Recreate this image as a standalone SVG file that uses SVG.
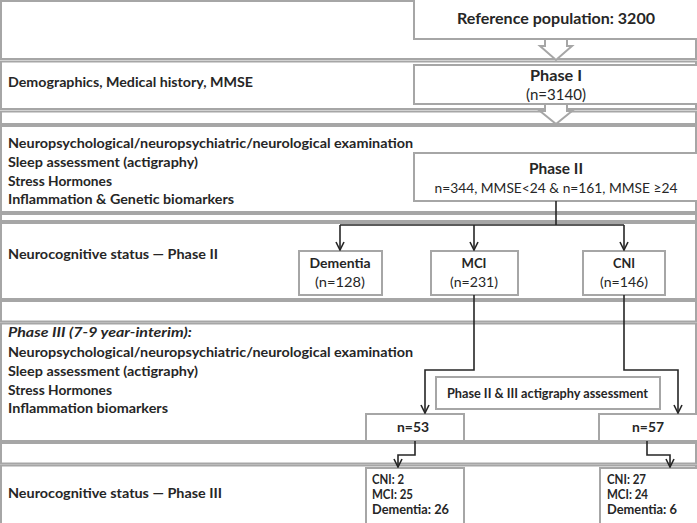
<svg xmlns="http://www.w3.org/2000/svg" width="697" height="523" viewBox="0 0 697 523">
<style>
.band{fill:#ffffff;stroke:#a6a6a6;stroke-width:2}
.box{fill:#ffffff;stroke:#a6a6a6;stroke-width:2}
.barrow{fill:#ffffff;stroke:#a6a6a6;stroke-width:2;stroke-linejoin:miter}
.con{fill:none;stroke:#262626;stroke-width:1.6}
.t{font-family:Lato,"Liberation Sans",Arial,sans-serif;font-weight:bold;font-size:14px;fill:#262626}
.r{font-weight:normal}
.i{font-style:italic}
.m{text-anchor:middle}
.s{font-size:13px}
.big{font-size:16px}
</style>
<defs>
<marker id="ah" viewBox="0 0 10 10" refX="9" refY="5" markerWidth="10" markerHeight="10" markerUnits="userSpaceOnUse" orient="auto">
<path d="M1,1 L9,5 L1,9" fill="none" stroke="#262626" stroke-width="1.6"/>
</marker>
</defs>
<rect width="697" height="523" fill="#ffffff"/>
<g id="bands">
<rect class="band" x="1" y="1" width="695" height="58"/>
<rect class="band" x="1" y="61.5" width="695" height="47.5"/>
<rect class="band" x="1" y="111.5" width="695" height="12.5"/>
<rect class="band" x="1" y="126" width="695" height="86"/>
<rect class="band" x="1" y="214" width="695" height="7"/>
<rect class="band" x="1" y="223" width="695" height="76"/>
<rect class="band" x="1" y="301" width="695" height="20.5"/>
<rect class="band" x="1" y="323.5" width="695" height="117.5"/>
<rect class="band" x="1" y="443" width="695" height="20.5"/>
<rect class="band" x="1" y="465.5" width="695" height="60"/>
</g>
<g id="band-labels">
<text class="t" x="8" y="87" textLength="245" lengthAdjust="spacingAndGlyphs">Demographics, Medical history, MMSE</text>
<text class="t" x="8" y="148" textLength="405" lengthAdjust="spacingAndGlyphs">Neuropsychological/neuropsychiatric/neurological examination</text>
<text class="t" x="8" y="167" textLength="190" lengthAdjust="spacingAndGlyphs">Sleep assessment (actigraphy)</text>
<text class="t" x="8" y="186" textLength="104" lengthAdjust="spacingAndGlyphs">Stress Hormones</text>
<text class="t" x="8" y="204" textLength="226" lengthAdjust="spacingAndGlyphs">Inflammation &amp; Genetic biomarkers</text>
<text class="t" x="8" y="259" textLength="210" lengthAdjust="spacingAndGlyphs">Neurocognitive status — Phase II</text>
<text class="t i" x="8" y="337" textLength="184" lengthAdjust="spacingAndGlyphs">Phase III (7-9 year-interim):</text>
<text class="t" x="8" y="357" textLength="405" lengthAdjust="spacingAndGlyphs">Neuropsychological/neuropsychiatric/neurological examination</text>
<text class="t" x="8" y="376" textLength="190" lengthAdjust="spacingAndGlyphs">Sleep assessment (actigraphy)</text>
<text class="t" x="8" y="395" textLength="104" lengthAdjust="spacingAndGlyphs">Stress Hormones</text>
<text class="t" x="8" y="413" textLength="160" lengthAdjust="spacingAndGlyphs">Inflammation biomarkers</text>
<text class="t" x="8" y="498" textLength="214" lengthAdjust="spacingAndGlyphs">Neurocognitive status — Phase III</text>
</g>
<g id="node-reference">
<rect class="box" x="414" y="-3" width="290" height="42"/>
<text class="t m big" x="556" y="24" textLength="198" lengthAdjust="spacingAndGlyphs">Reference population: 3200</text>
</g>
<g id="node-phase1">
<rect class="box" x="414" y="65" width="290" height="39"/>
<text class="t m big" x="556" y="81" textLength="52" lengthAdjust="spacingAndGlyphs">Phase I</text>
<text class="t m r big" x="556" y="100" textLength="60" lengthAdjust="spacingAndGlyphs">(n=3140)</text>
</g>
<g id="node-phase2">
<rect class="box" x="414" y="153" width="290" height="48"/>
<text class="t m big" x="556" y="174" textLength="54" lengthAdjust="spacingAndGlyphs">Phase II</text>
<text class="t m r" x="556" y="193" textLength="243" lengthAdjust="spacingAndGlyphs">n=344, MMSE&lt;24 &amp; n=161, MMSE ≥24</text>
</g>
<g id="node-dementia">
<rect class="box" x="299" y="251" width="83" height="44"/>
<text class="t m" x="340" y="268" textLength="61" lengthAdjust="spacingAndGlyphs">Dementia</text>
<text class="t m r" x="340" y="287" textLength="50" lengthAdjust="spacingAndGlyphs">(n=128)</text>
</g>
<g id="node-mci">
<rect class="box" x="431" y="251" width="87" height="44"/>
<text class="t m" x="474" y="268" textLength="25" lengthAdjust="spacingAndGlyphs">MCI</text>
<text class="t m r" x="474" y="287" textLength="48" lengthAdjust="spacingAndGlyphs">(n=231)</text>
</g>
<g id="node-cni">
<rect class="box" x="583" y="251" width="82" height="44"/>
<text class="t m" x="624" y="268" textLength="22" lengthAdjust="spacingAndGlyphs">CNI</text>
<text class="t m r" x="624" y="287" textLength="48" lengthAdjust="spacingAndGlyphs">(n=146)</text>
</g>
<g id="node-actigraphy">
<rect class="box" x="436" y="377" width="224" height="32"/>
<text class="t m s" x="547.5" y="398" textLength="201" lengthAdjust="spacingAndGlyphs">Phase II &amp; III actigraphy assessment</text>
</g>
<g id="node-n53">
<rect class="box" x="366" y="414" width="98" height="27"/>
<text class="t m" x="413" y="432" textLength="32" lengthAdjust="spacingAndGlyphs">n=53</text>
</g>
<g id="node-n57">
<rect class="box" x="599" y="414" width="105" height="27"/>
<text class="t m" x="648" y="432" textLength="32" lengthAdjust="spacingAndGlyphs">n=57</text>
</g>
<g id="node-outcome53">
<rect class="box" x="366" y="468" width="98" height="60"/>
<text class="t s" x="372" y="484" textLength="32" lengthAdjust="spacingAndGlyphs">CNI: 2</text>
<text class="t s" x="372" y="499" textLength="41" lengthAdjust="spacingAndGlyphs">MCI: 25</text>
<text class="t s" x="372" y="514" textLength="77" lengthAdjust="spacingAndGlyphs">Dementia: 26</text>
</g>
<g id="node-outcome57">
<rect class="box" x="600" y="468" width="104" height="60"/>
<text class="t s" x="607" y="484" textLength="39" lengthAdjust="spacingAndGlyphs">CNI: 27</text>
<text class="t s" x="607" y="499" textLength="41" lengthAdjust="spacingAndGlyphs">MCI: 24</text>
<text class="t s" x="607" y="514" textLength="70" lengthAdjust="spacingAndGlyphs">Dementia: 6</text>
</g>
<g id="connectors">
<polygon class="barrow" points="545,39 545,46 540,46 556,60 572,46 567,46 567,39"/>
<polygon class="barrow" points="545,104 545,111 540,111 556,124 572,111 567,111 567,104"/>
<path class="con" d="M556,201 V225 M340,225 H624"/>
<path class="con" d="M340,225 V250" marker-end="url(#ah)"/>
<path class="con" d="M474,225 V250" marker-end="url(#ah)"/>
<path class="con" d="M624,225 V250" marker-end="url(#ah)"/>
<path class="con" d="M474,295 V370 H425 V413" marker-end="url(#ah)"/>
<path class="con" d="M624,295 V370 H678 V413" marker-end="url(#ah)"/>
<path class="con" d="M415,441 V455 H398 V467" marker-end="url(#ah)"/>
<path class="con" d="M647,441 V455 H670 V467" marker-end="url(#ah)"/>
</g>
</svg>
